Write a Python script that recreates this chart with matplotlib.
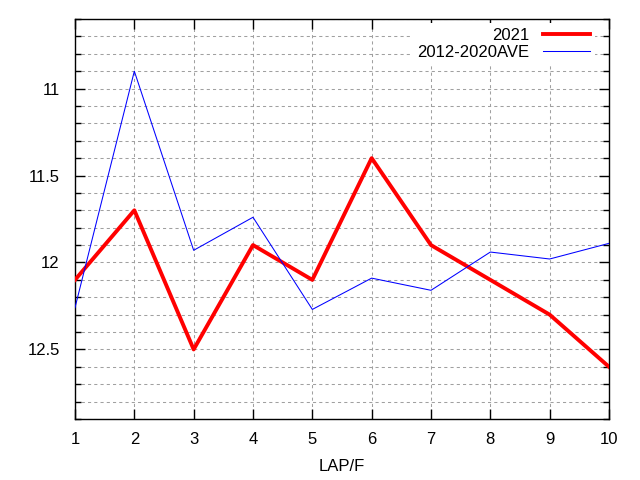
import matplotlib
matplotlib.use("Agg")
import matplotlib.pyplot as plt
from matplotlib.ticker import MultipleLocator

# ラップ番号と各ラップタイム
laps = [1, 2, 3, 4, 5, 6, 7, 8, 9, 10]
time_2021 = [12.1, 11.7, 12.5, 11.9, 12.1, 11.4, 11.9, 12.1, 12.3, 12.6]
time_ave = [12.26, 10.9, 11.93, 11.74, 12.27, 12.09, 12.16, 11.94, 11.98, 11.89]

plt.rcParams["font.family"] = ["Liberation Sans", "DejaVu Sans"]
plt.rcParams["font.size"] = 12

fig = plt.figure(figsize=(6.4, 4.8), dpi=100)
ax = fig.add_axes([75 / 640, 1 - 419 / 480, 534 / 640, 400 / 480])

ax.plot(laps, time_2021, color="red", lw=2.8, label="2021", zorder=3)
ax.plot(laps, time_ave, color="blue", lw=0.75, label="2012-2020AVE", zorder=3)

ax.set_xlim(1, 10)
ax.set_ylim(12.9, 10.6)
ax.xaxis.set_major_locator(MultipleLocator(1))
ax.yaxis.set_major_locator(MultipleLocator(0.5))
ax.yaxis.set_minor_locator(MultipleLocator(0.1))
ax.yaxis.set_major_formatter(matplotlib.ticker.FuncFormatter(lambda v, p: f"{v:g}"))

ax.tick_params(which="both", direction="in", top=True, right=True, width=1)
ax.tick_params(which="major", length=7)
ax.tick_params(which="minor", length=4)
ax.tick_params(axis="x", pad=9)
ax.tick_params(axis="y", pad=11)

grid_kw = dict(color="#a0a0a0", lw=0.75, linestyle=(0, (3, 3)))
ax.grid(True, which="major", axis="x", **grid_kw)
ax.grid(True, which="both", axis="y", **grid_kw)
ax.set_axisbelow(True)

for s in ax.spines.values():
    s.set_linewidth(1)

ax.set_xlabel("LAP/F", labelpad=9)

leg = ax.legend(loc="upper right", bbox_to_anchor=(0.9735, 0.99),
                markerfirst=False, frameon=True, fancybox=False,
                edgecolor="none", facecolor="white", framealpha=1,
                borderpad=0.3, borderaxespad=0, labelspacing=0.1,
                handlelength=2.8, handletextpad=0.85)

fig.savefig("out.png", dpi=100)
